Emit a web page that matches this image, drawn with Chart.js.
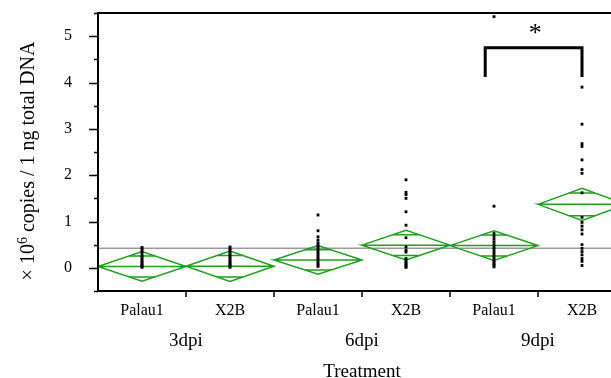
<!DOCTYPE html>
<html lang="en">
<head>
<meta charset="UTF-8">
<script src="https://cdn.jsdelivr.net/npm/chart.js"></script>
<style>
    html, body { margin: 0; padding: 0; overflow: hidden; background: #fff; }
    #wrap { width: 640px; height: 378px; }
</style>
<title>Copies per ng total DNA by treatment</title>
</head>
<body>
<div id="wrap"><canvas id="myChart" width="640" height="378"></canvas></div>

<script>
// category labels
const strains = ['Palau1', 'X2B', 'Palau1', 'X2B', 'Palau1', 'X2B'];
const times = ['3dpi', '6dpi', '9dpi'];
const yTicks = [0, 1, 2, 3, 4, 5];

// individual samples (x 10^6 copies / 1 ng total DNA)
const palau1_3dpi = [0.44, 0.41, 0.37, 0.33, 0.27, 0.23, 0.19, 0.15, 0.11, 0.08, 0.05, 0.03, 0.01];
const x2b_3dpi    = [0.45, 0.41, 0.37, 0.32, 0.28, 0.24, 0.20, 0.16, 0.12, 0.09, 0.06, 0.03, 0.01];
const palau1_6dpi = [1.14, 0.80, 0.67, 0.60, 0.54, 0.50, 0.46, 0.41, 0.37, 0.32, 0.28, 0.23, 0.19, 0.14, 0.10, 0.06, 0.03];
const x2b_6dpi    = [1.90, 1.63, 1.58, 1.50, 1.21, 0.92, 0.65, 0.45, 0.38, 0.34, 0.20, 0.16, 0.12, 0.09, 0.06, 0.03, 0.01];
const palau1_9dpi = [5.42, 1.33, 0.74, 0.68, 0.62, 0.56, 0.50, 0.45, 0.40, 0.35, 0.30, 0.25, 0.20, 0.16, 0.12, 0.08, 0.05, 0.02];
const x2b_9dpi    = [3.90, 3.10, 2.68, 2.62, 2.33, 2.12, 2.04, 1.62, 1.09, 0.98, 0.90, 0.82, 0.73, 0.50, 0.42, 0.35, 0.28, 0.20, 0.14, 0.05];

// means diamonds: group mean and half width of the 95% CI
const means  = [0.03, 0.035, 0.17, 0.49, 0.48, 1.37];
const ciHalf = [0.32, 0.33, 0.31, 0.32, 0.32, 0.345];
const grandMean = 0.42;

// significance bracket between 9dpi groups: x from, x to, top, leg end
const bracket = [3.9, 5, 4.75, 4.12];
const starAt = [4.47, 4.9];

const groupValues = [palau1_3dpi, x2b_3dpi, palau1_6dpi, x2b_6dpi, palau1_9dpi, x2b_9dpi];
const GREEN = '#1f9f1f';
const SERIF = "'Liberation Serif', 'Times New Roman', serif";

// points
const pointData = [];
groupValues.forEach((vals, i) => {
    vals.forEach(v => pointData.push({x: i, y: v}));
});

const datasets = [];
datasets.push({
    data: pointData,
    order: 0,
    pointStyle: 'rect',
    pointRadius: 2,
    backgroundColor: '#000',
    borderColor: '#000',
    borderWidth: 0,
});

datasets.push({
    data: [
        {x: bracket[0], y: bracket[3]},
        {x: bracket[0], y: bracket[2]},
        {x: bracket[1], y: bracket[2]},
        {x: bracket[1], y: bracket[3]},
    ],
    order: 1,
    showLine: true,
    pointRadius: 0,
    borderColor: '#000',
    borderWidth: 3,
    borderJoinStyle: 'miter',
});

// diamonds + mean line + overlap marks
means.forEach((m, i) => {
    const h = ciHalf[i];
    const o = h / Math.SQRT2;
    const w = 0.5 * (1 - 1 / Math.SQRT2);
    datasets.push({
        data: [
            {x: i - 0.5, y: m}, {x: i, y: m + h}, {x: i + 0.5, y: m},
            {x: i, y: m - h}, {x: i - 0.5, y: m}, {x: i + 0.5, y: m},
        ],
        order: 2,
        showLine: true,
        pointRadius: 0,
        borderColor: GREEN,
        borderWidth: 1.5,
    });
    datasets.push({
        data: [
            {x: i - w, y: m + o}, {x: i + w, y: m + o}, {x: i, y: null},
            {x: i - w, y: m - o}, {x: i + w, y: m - o},
        ],
        order: 2,
        showLine: true,
        spanGaps: false,
        pointRadius: 0,
        borderColor: GREEN,
        borderWidth: 1.5,
    });
});

// overall mean
datasets.push({
    data: [{x: -0.5, y: grandMean}, {x: strains.length - 0.5, y: grandMean}],
    order: 3,
    showLine: true,
    pointRadius: 0,
    borderColor: '#999',
    borderWidth: 1.5,
});

// frame, ticks, star and y title
const decorations = {
    id: 'decorations',
    afterDraw(chart) {
        const {ctx, chartArea: a, scales: {x, y}} = chart;
        ctx.save();
        ctx.strokeStyle = '#000';
        ctx.lineWidth = 2;
        ctx.beginPath();
        ctx.moveTo(a.right + 20, a.top);
        ctx.lineTo(a.left, a.top);
        ctx.lineTo(a.left, a.bottom);
        ctx.lineTo(a.right + 20, a.bottom);
        ctx.stroke();

        ctx.lineWidth = 1.5;
        ctx.beginPath();
        for (let v = -0.5; v <= 5.5; v += 0.5) {
            const py = Math.round(y.getPixelForValue(v)) + 0.5;
            const len = Number.isInteger(v) ? 9 : 4;
            ctx.moveTo(a.left, py);
            ctx.lineTo(a.left - len, py);
        }
        for (let i = 0; i < strains.length - 1; i++) {
            const px = Math.round(x.getPixelForValue(i + 0.5));
            ctx.moveTo(px, a.bottom);
            ctx.lineTo(px, a.bottom + 6);
        }
        ctx.stroke();

        ctx.fillStyle = '#000';
        ctx.font = '26px ' + SERIF;
        ctx.textAlign = 'center';
        ctx.textBaseline = 'alphabetic';
        ctx.fillText('*', x.getPixelForValue(starAt[0]), y.getPixelForValue(starAt[1]));

        // y axis title with superscript
        const big = '20px ' + SERIF, small = '14px ' + SERIF;
        const p1 = '\u00d7 10', p2 = '6', p3 = ' copies / 1 ng total DNA';
        ctx.font = big;
        const w1 = ctx.measureText(p1).width, w3 = ctx.measureText(p3).width;
        ctx.font = small;
        const w2 = ctx.measureText(p2).width;
        const total = w1 + w2 + w3;
        ctx.translate(34, 161);
        ctx.rotate(-Math.PI / 2);
        ctx.textAlign = 'left';
        ctx.textBaseline = 'alphabetic';
        let cx = -total / 2;
        ctx.font = big;
        ctx.fillText(p1, cx, 0);
        cx += w1;
        ctx.font = small;
        ctx.fillText(p2, cx, -7);
        cx += w2;
        ctx.font = big;
        ctx.fillText(p3, cx, 0);
        ctx.restore();
    }
};

function noPad(s) {
    s.paddingTop = 0;
    s.paddingBottom = 0;
    s.paddingLeft = 0;
    s.paddingRight = 0;
}

const config = {
    type: 'scatter',
    data: {datasets: datasets},
    plugins: [decorations],
    options: {
        responsive: false,
        animation: false,
        devicePixelRatio: 1,
        layout: {padding: {left: 0, right: 14, top: 13, bottom: 0}},
        plugins: {legend: {display: false}, tooltip: {enabled: false}},
        scales: {
            x: {
                type: 'linear',
                position: 'bottom',
                min: -0.5,
                max: strains.length - 0.5,
                grid: {display: false},
                border: {display: false},
                afterBuildTicks: (s) => { s.ticks = strains.map((_, i) => ({value: i})); },
                afterFit: (s) => { s.height = 30; noPad(s); },
                ticks: {
                    color: '#000',
                    padding: 2,
                    maxRotation: 0,
                    autoSkip: false,
                    font: {family: SERIF, size: 16},
                    callback: (v) => strains[v],
                },
            },
            x2: {
                type: 'linear',
                position: 'bottom',
                min: -0.5,
                max: strains.length - 0.5,
                grid: {display: false},
                border: {display: false},
                afterBuildTicks: (s) => { s.ticks = times.map((_, i) => ({value: 2 * i + 0.5})); },
                afterFit: (s) => { s.height = 57; noPad(s); },
                ticks: {
                    color: '#000',
                    padding: 1,
                    maxRotation: 0,
                    autoSkip: false,
                    font: {family: SERIF, size: 19},
                    callback: (v, i) => times[i],
                },
                title: {
                    display: true,
                    text: 'Treatment',
                    color: '#000',
                    padding: {top: 0, bottom: 0},
                    font: {family: SERIF, size: 19, lineHeight: 0.6},
                },
            },
            y: {
                min: -0.5,
                max: 5.5,
                grid: {display: false},
                border: {display: false},
                afterBuildTicks: (s) => { s.ticks = yTicks.map(v => ({value: v})); },
                afterFit: (s) => { s.width = 98; noPad(s); },
                ticks: {
                    color: '#000',
                    padding: 18,
                    font: {family: SERIF, size: 16},
                },
            },
        },
    },
};

const myChart = new Chart(document.getElementById('myChart').getContext('2d'), config);
</script>
</body>
</html>
